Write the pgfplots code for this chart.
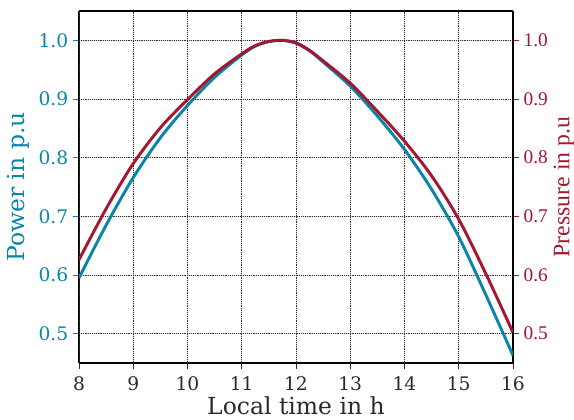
\documentclass[border=0pt]{standalone}
\usepackage{pgfplots}
\pgfplotsset{compat=1.18}
\usepackage{fontspec}
\setmainfont{DejaVu Serif}
\newfontfamily\timesfont{Liberation Serif}
\definecolor{powblue}{RGB}{10,133,168}
\definecolor{presred}{RGB}{165,22,48}
\definecolor{txtdark}{RGB}{38,42,50}
\begin{document}
\begin{tikzpicture}
\useasboundingbox (0,0) rectangle (430.5pt,314.25pt);
\pgfplotsset{
  common/.style={
    at={(59.25pt,42pt)}, anchor=south west,
    scale only axis, width=325.5pt, height=264pt,
    xmin=8, xmax=16, ymin=0.45, ymax=1.05,
    xtick={8,...,16},
    ytick={0.5,0.6,0.7,0.8,0.9,1.0},
    /pgf/number format/assume math mode=true,
    /pgf/number format/.cd, fixed, fixed zerofill, precision=1, /pgfplots/.cd,
    tick align=outside,
    major tick length=4.5pt,
    axis line style={black, line width=0.8pt},
  }
}
% Left axis: solid light grid, left ticks, x ticks
\begin{axis}[common,
  axis x line*=bottom, axis y line*=left,
  grid=major, major grid style={gray!30, line width=0.7pt},
  xticklabel style={font=\fontsize{14}{16}\selectfont, text=txtdark, yshift=-2pt,
    /pgf/number format/precision=0, /pgf/number format/fixed zerofill=false},
  xtick style={txtdark, line width=0.7pt},
  yticklabel style={font=\fontsize{14}{16}\selectfont, text=powblue},
  ytick style={powblue, line width=0.7pt},
  xlabel={Local time in h},
  xlabel style={font=\fontsize{17.6}{20}\selectfont, text=txtdark,
    at={(axis description cs:0.5,0)}, anchor=base, yshift=-38.3pt},
  ylabel={Power in p.u},
  ylabel style={font=\fontsize{17.6}{20}\selectfont, text=powblue,
    at={(axis description cs:-0.14,0.5)}, anchor=center, rotate=0},
]
\end{axis}
% Right axis: dotted grid, right ticks, both curves
\begin{axis}[common,
  axis x line*=top, axis y line*=right,
  xticklabels={}, xtick style={draw=none},
  grid=major, major grid style={black!80, densely dotted, line width=0.6pt},
  yticklabel style={font=\timesfont\fontsize{14.5}{16}\selectfont, text=presred},
  ytick style={presred, line width=0.7pt},
  ylabel={Pressure in p.u},
  ylabel style={font=\timesfont\fontsize{17.8}{20}\selectfont, text=presred,
    at={(axis description cs:1.1175,0.5)}, anchor=center, rotate=0},
]
\addplot[powblue, line width=2.2pt, smooth] coordinates {
(8,0.595) (8.5,0.685) (9,0.766) (9.5,0.834) (10,0.889) (10.5,0.937)
(11,0.975) (11.25,0.990) (11.5,0.998) (11.75,1.0) (12,0.995) (12.25,0.982)
(12.5,0.963) (13,0.922) (13.5,0.871)
(14,0.814) (14.5,0.746) (15,0.665) (15.5,0.566) (16,0.463)};
\addplot[presred, line width=2.2pt, smooth] coordinates {
(8,0.626) (8.5,0.713) (9,0.790) (9.5,0.851) (10,0.899) (10.5,0.943)
(11,0.977) (11.25,0.991) (11.5,0.998) (11.75,1.0) (12,0.996) (12.25,0.983)
(12.5,0.965) (13,0.927) (13.5,0.879)
(14,0.828) (14.5,0.769) (15,0.695) (15.5,0.602) (16,0.502)};
\end{axis}
\end{tikzpicture}
\end{document}
